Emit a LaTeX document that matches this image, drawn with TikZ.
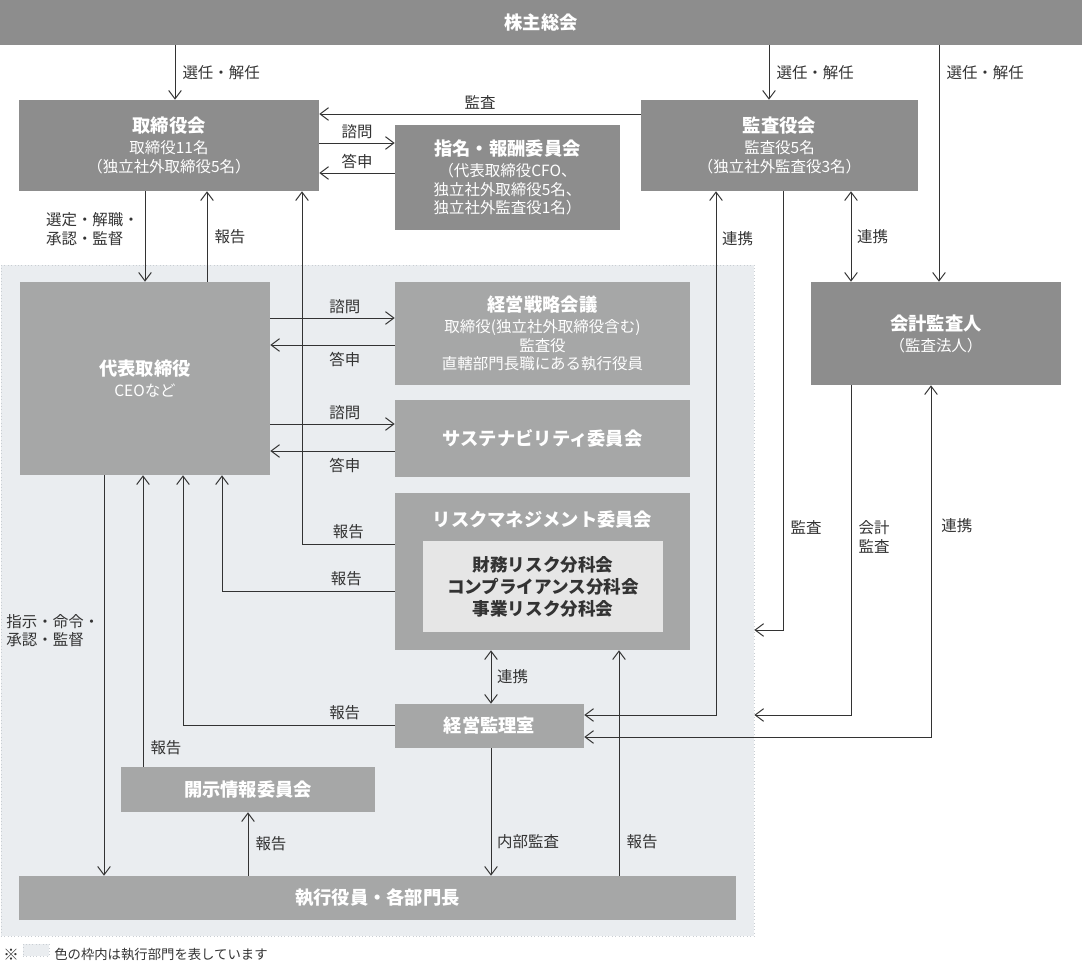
\documentclass[tikz,border=0pt]{standalone}
\usepackage{fontspec}
\setmainfont{Noto Sans CJK JP}
\usepackage{xcolor}
\usepackage{tikz}
\usetikzlibrary{arrows.meta}

\definecolor{darkbox}{HTML}{8D8D8D}
\definecolor{execbox}{HTML}{A6A7A7}
\definecolor{innerbox}{HTML}{E6E6E6}
\definecolor{execarea}{HTML}{EAEDF0}
\definecolor{execedge}{HTML}{C9CED3}
\definecolor{linec}{HTML}{333333}

\tikzset{
  boardbox/.style={fill=darkbox, text=white, align=center, inner sep=0pt,
    font=\fontsize{11}{13}\selectfont},
  execnode/.style={fill=execbox, text=white, align=center, inner sep=0pt,
    font=\fontsize{11}{13}\selectfont},
  conn/.style={draw=linec, line width=0.7pt, -{Straight Barb[length=6pt,width=9pt]}},
  both/.style={conn, {Straight Barb[length=6pt,width=9pt]}-{Straight Barb[length=6pt,width=9pt]}},
  lbl/.style={text=linec, inner sep=0pt, align=left, font=\fontsize{11}{13}\selectfont},
}
\newcommand{\ttl}[1]{{\fontsize{13}{16}\selectfont\bfseries #1}}

\begin{document}
\begin{tikzpicture}[x=0.025cm, y=-0.025cm]
        \useasboundingbox (0,0) rectangle (1082,965);
        \node[fill=execarea, draw=execedge, dotted, minimum width=18.825cm, minimum height=16.775cm] (exec) at (377.5,600.5) {};

        \node[boardbox, minimum width=27.05cm, minimum height=1.125cm] (soukai) at (541,22.5) {\ttl{株主総会}};
        \node[boardbox, minimum width=7.5cm, minimum height=2.275cm] (torishimari) at (169,145.5) {\ttl{取締役会}\\[2pt]取締役11名\\（独立社外取締役5名）};
        \node[boardbox, minimum width=5.625cm, minimum height=2.625cm] (shimei) at (507.5,177.5) {\ttl{指名・報酬委員会}\\[2pt]（代表取締役CFO、\\独立社外取締役5名、\\独立社外監査役1名）};
        \node[boardbox, minimum width=6.925cm, minimum height=2.275cm] (kansayaku) at (779.5,145.5) {\ttl{監査役会}\\[2pt]監査役5名\\（独立社外監査役3名）};
        \node[boardbox, minimum width=6.25cm, minimum height=2.575cm] (kaikei) at (936,333.5) {\ttl{会計監査人}\\[2pt]（監査法人）};

        \node[execnode, minimum width=6.25cm, minimum height=4.825cm] (daihyo) at (145,378.5) {\ttl{代表取締役}\\[2pt]CEOなど};
        \node[execnode, minimum width=7.375cm, minimum height=2.575cm] (senryaku) at (542.5,333.5) {\ttl{経営戦略会議}\\[2pt]取締役(独立社外取締役含む)\\監査役\\直轄部門長職にある執行役員};
        \node[execnode, minimum width=7.375cm, minimum height=1.925cm] (sustain) at (542.5,438.5) {\ttl{サステナビリティ委員会}};
        \node[execnode, minimum width=7.375cm, minimum height=3.925cm] (risk) at (542.5,571.5) {};
        \node[text=white, inner sep=0pt] (risktitle) at (542.5,520) {\ttl{リスクマネジメント委員会}};
        \node[fill=innerbox, text=linec, align=center, inner sep=0pt, minimum width=6cm, minimum height=2.275cm,
          font=\fontsize{12.5}{15.6}\selectfont\bfseries] (riskin) at (543,586.5) {財務リスク分科会\\コンプライアンス分科会\\事業リスク分科会};
        \node[execnode, minimum width=4.725cm, minimum height=1.1cm] (kanri) at (489.5,726) {\ttl{経営監理室}};
        \node[execnode, minimum width=6.35cm, minimum height=1.125cm] (kaiji) at (248,789.5) {\ttl{開示情報委員会}};
        \node[execnode, minimum width=17.925cm, minimum height=1.1cm] (shikko) at (377.5,898) {\ttl{執行役員・各部門長}};

        \draw[conn] (175,0 |- soukai.south) -- node[lbl, right=5pt] {選任・解任} (175,0 |- torishimari.north);
        \draw[conn] (769,0 |- soukai.south) -- node[lbl, right=5pt] {選任・解任} (769,0 |- kansayaku.north);
        \draw[conn] (939,0 |- soukai.south) -- node[lbl, right=5pt, pos=0.115] {選任・解任} (939,0 |- kaikei.north);
        \draw[conn] (kansayaku.west |- 0,114) -- node[lbl, above=3pt] {監査} (torishimari.east |- 0,114);
        \draw[conn] (torishimari.east |- 0,143) -- node[lbl, above=3pt] {諮問} (shimei.west |- 0,143);
        \draw[conn] (shimei.west |- 0,173) -- node[lbl, above=3pt] {答申} (torishimari.east |- 0,173);
        \draw[conn] (145,0 |- torishimari.south) -- node[lbl, left=4pt, pos=0.42] {選定・解職・\\承認・監督} (145,0 |- daihyo.north);
        \draw[conn] (207,0 |- daihyo.north) -- node[lbl, right=5pt] {報告} (207,0 |- torishimari.south);
        \draw[conn] (risk.west |- 0,544) -| node[lbl, above=3pt, pos=0.25] {報告} (302,0 |- torishimari.south);

        \draw[conn] (daihyo.east |- 0,318) -- node[lbl, above=3pt, pos=0.6] {諮問} (senryaku.west |- 0,318);
        \draw[conn] (senryaku.west |- 0,345) -- node[lbl, below=5pt, pos=0.4] {答申} (daihyo.east |- 0,345);
        \draw[conn] (daihyo.east |- 0,424) -- node[lbl, above=3pt, pos=0.6] {諮問} (sustain.west |- 0,424);
        \draw[conn] (sustain.west |- 0,451) -- node[lbl, below=5pt, pos=0.4] {答申} (daihyo.east |- 0,451);
        \draw[conn] (risk.west |- 0,591) -| node[lbl, above=3pt, pos=0.14] {報告} (222,0 |- daihyo.south);
        \draw[conn] (kanri.west |- 0,725) -| node[lbl, above=3pt, pos=0.118] {報告} (183,0 |- daihyo.south);
        \draw[conn] (143,0 |- kaiji.north) -- node[lbl, right=5pt, pos=0.065] {報告} (143,0 |- daihyo.south);
        \draw[conn] (104,0 |- daihyo.south) -- node[lbl, left=3pt, pos=0.387] {指示・命令・\\承認・監督} (104,0 |- shikko.north);
        \draw[conn] (248,0 |- shikko.north) -- node[lbl, right=5pt] {報告} (248,0 |- kaiji.south);
        \draw[conn] (491,0 |- kanri.south) -- node[lbl, right=4pt, pos=0.73] {内部監査} (491,0 |- shikko.north);
        \draw[conn] (619,0 |- shikko.north) -- node[lbl, right=5pt, pos=0.15] {報告} (619,0 |- risk.south);
        \draw[both] (491,0 |- risk.south) -- node[lbl, right=4pt] {連携} (491,0 |- kanri.north);

        \draw[both] (kanri.east |- 0,715) -| node[lbl, right=4pt, pos=0.955] {連携} (716,0 |- kansayaku.south);
        \draw[conn] (783,0 |- kansayaku.south) |- node[lbl, right=5pt, pos=0.383] {監査} (exec.east |- 0,630);
        \draw[both] (851,0 |- kansayaku.south) -- node[lbl, right=4pt] {連携} (851,0 |- kaikei.north);
        \draw[conn] (851,0 |- kaikei.south) |- node[lbl, right=5pt, pos=0.23] {会計\\監査} (exec.east |- 0,715);
        \draw[both] (931,0 |- kaikei.south) |- node[lbl, right=7pt, pos=0.2] {連携} (kanri.east |- 0,737);

        \node[lbl, anchor=west, font=\fontsize{11}{12}\selectfont] (note) at (3,955) {※};
        \node[fill=execarea, draw=execedge, dotted, minimum width=0.65cm, minimum height=0.3cm] (keybox) at (36,950) {};
        \node[lbl, anchor=west, font=\fontsize{9.5}{12}\selectfont] (notetext) at (54,955) {色の枠内は執行部門を表しています};
    \end{tikzpicture}
\end{document}
